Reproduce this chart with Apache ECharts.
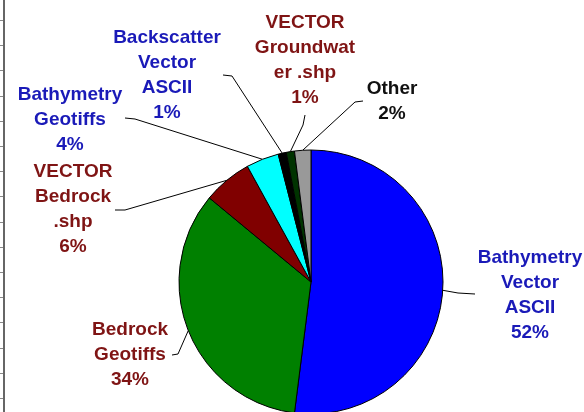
<!DOCTYPE html>
<html>
<head>
<meta charset="utf-8">
<style>
  html, body { margin: 0; padding: 0; background: #fff; }
  #chart { width: 584px; height: 412px; }
</style>
<script src="https://cdn.jsdelivr.net/npm/echarts@6/dist/echarts.min.js"></script>
</head>
<body>
<div id="chart"></div>
<script>
// slices, clockwise from 12 o'clock
const categories = [
  'Bathymetry\nVector\nASCII',
  'Bedrock\nGeotiffs',
  'VECTOR\nBedrock\n.shp',
  'Bathymetry\nGeotiffs',
  'Backscatter\nVector\nASCII',
  'VECTOR\nGroundwat\ner .shp',
  'Other'
]
const shares = [52, 34, 6, 4, 1, 1, 2]

const sliceColors = ['#0000ff', '#008000', '#800000', '#00ffff', '#000000', '#003300', '#999999']
const textColors = ['#1a1ab8', '#7f1414', '#7f1414', '#1a1ab8', '#1a1ab8', '#7f1414', '#111111']

// label centre + leader line (elbow, end) per slice
const labelSpots = [
  { x: 530, y: 295, line: [[458, 293], [475, 294]] },
  { x: 130, y: 355, line: [[178, 354], [172, 355]] },
  { x: 73, y: 209, line: [[125, 210], [115, 210]] },
  { x: 70, y: 120, line: [[135, 119], [125, 118]] },
  { x: 167, y: 75, line: [[232, 76], [223, 75]] },
  { x: 305, y: 60, line: [[303, 125], [305, 115]] },
  { x: 392, y: 101, line: [[355, 102], [363, 101]] }
]

const chart = echarts.init(document.getElementById('chart'))

const ticks = []
for (let y = 20; y < 412; y += 25.2) {
  ticks.push({
    type: 'line',
    shape: { x1: 0, y1: Math.round(y) + 0.5, x2: 3, y2: Math.round(y) + 0.5 },
    style: { stroke: '#888', lineWidth: 1 }
  })
}

chart.setOption({
  backgroundColor: '#fff',
  animation: false,
  graphic: [
    {
      type: 'line',
      shape: { x1: 4, y1: 0, x2: 4, y2: 412 },
      style: { stroke: '#666', lineWidth: 2 }
    }
  ].concat(ticks),
  series: [{
    type: 'pie',
    center: [311, 282],
    radius: 132,
    startAngle: 90,
    clockwise: true,
    avoidLabelOverlap: false,
    itemStyle: { borderColor: '#000', borderWidth: 1 },
    label: {
      show: true,
      position: 'outside',
      formatter: '{b}\n{d}%',
      fontFamily: 'Liberation Sans',
      fontWeight: 'bold',
      fontSize: 19,
      lineHeight: 25,
      align: 'center'
    },
    labelLine: {
      show: true,
      lineStyle: { color: '#000', width: 1 }
    },
    labelLayout: function (params) {
      const spot = labelSpots[params.dataIndex]
      const start = params.labelLinePoints ? params.labelLinePoints[0] : spot.line[0]
      return {
        x: spot.x,
        y: spot.y,
        align: 'center',
        verticalAlign: 'middle',
        hideOverlap: false,
        labelLinePoints: [start, spot.line[0], spot.line[1]]
      }
    },
    data: categories.map((name, i) => ({
      name: name,
      value: shares[i],
      itemStyle: { color: sliceColors[i] },
      label: { color: textColors[i] }
    }))
  }]
})
</script>
</body>
</html>
